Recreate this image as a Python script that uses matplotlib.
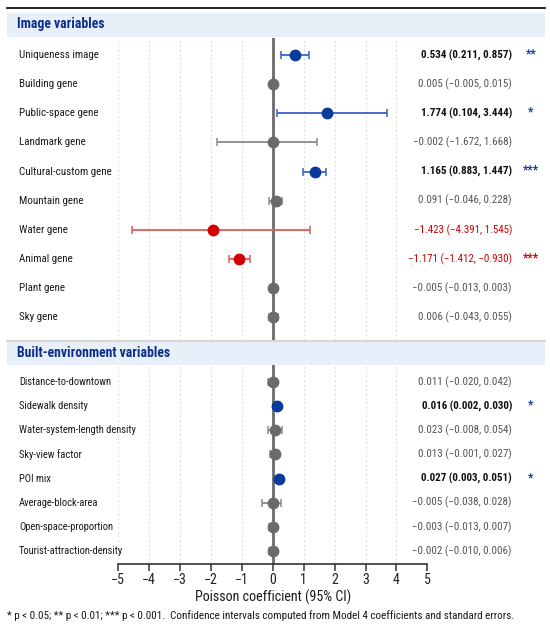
import matplotlib
matplotlib.use('Agg')
import matplotlib.pyplot as plt
from matplotlib import font_manager
from matplotlib.patches import Rectangle
from matplotlib.lines import Line2D
from matplotlib.transforms import blended_transform_factory

# pick a narrow sans if one is there
installed = set(f.name for f in font_manager.fontManager.ttflist)
base = 'DejaVu Sans'
for cand in ['Roboto Condensed', 'Liberation Sans Narrow', 'DejaVu Sans Condensed',
             'Open Sans Condensed', 'Noto Sans Condensed', 'Lato']:
    if cand in installed:
        base = cand
        break
plt.rcParams['font.family'] = [base, 'DejaVu Sans']
plt.rcParams['axes.unicode_minus'] = True

# ---- data ----
img_names = ['Uniqueness image', 'Building gene', 'Public-space gene', 'Landmark gene',
             'Cultural-custom gene', 'Mountain gene', 'Water gene', 'Animal gene',
             'Plant gene', 'Sky gene']
img_coef = [0.71, 0.0, 1.77, 0.0, 1.35, 0.09, -1.93, -1.10, 0.0, 0.0]
img_lo = [0.27, -0.02, 0.14, -1.81, 0.97, -0.11, -4.57, -1.42, -0.02, -0.13]
img_hi = [1.17, 0.02, 3.70, 1.42, 1.72, 0.30, 1.22, -0.75, 0.02, 0.16]
img_text = ['0.534 (0.211, 0.857)', '0.005 (\u22120.005, 0.015)', '1.774 (0.104, 3.444)',
            '\u22120.002 (\u22121.672, 1.668)', '1.165 (0.883, 1.447)', '0.091 (\u22120.046, 0.228)',
            '\u22121.423 (\u22124.391, 1.545)', '\u22121.171 (\u22121.412, \u22120.930)',
            '\u22120.005 (\u22120.013, 0.003)', '0.006 (\u22120.043, 0.055)']
img_stars = ['**', '', '*', '', '***', '', '', '***', '', '']
img_kind = ['pos', 'ns', 'pos', 'ns', 'pos', 'ns', 'neg', 'neg', 'ns', 'ns']

env_names = ['Distance-to-downtown', 'Sidewalk density', 'Water-system-length density',
             'Sky-view factor', 'POI mix', 'Average-block-area', 'Open-space-proportion',
             'Tourist-attraction-density']
env_coef = [0.0, 0.14, 0.08, 0.06, 0.19, 0.0, 0.0, 0.0]
env_lo = [-0.17, 0.10, -0.14, -0.08, 0.05, -0.34, -0.13, -0.13]
env_hi = [0.15, 0.18, 0.30, 0.21, 0.32, 0.27, 0.14, 0.14]
env_text = ['0.011 (\u22120.020, 0.042)', '0.016 (0.002, 0.030)', '0.023 (\u22120.008, 0.054)',
            '0.013 (\u22120.001, 0.027)', '0.027 (0.003, 0.051)', '\u22120.005 (\u22120.038, 0.028)',
            '\u22120.003 (\u22120.013, 0.007)', '\u22120.002 (\u22120.010, 0.006)']
env_stars = ['', '*', '', '', '*', '', '', '']
env_kind = ['ns', 'pos', 'ns', 'ns', 'pos', 'ns', 'ns', 'ns']

xticks = [-5, -4, -3, -2, -1, 0, 1, 2, 3, 4, 5]

# colours per kind: (point, bar, text)
colors = {'pos': ('#0a3a9c', '#3b63c4', '#111111'),
          'neg': ('#d40000', '#e25a5a', '#d40000'),
          'ns': ('#6b6b6b', '#8a8a8a', '#555555')}
star_col = {'pos': '#0a3a9c', 'neg': '#d40000', 'ns': '#555555'}

W, H = 550, 629
fig = plt.figure(figsize=(W / 100, H / 100), dpi=100)
fig.canvas.draw()
renderer = fig.canvas.get_renderer()


def fx(px):
    return px / W


def fy(py):
    return 1 - py / H


def fit_size(texts, ref, target_px, boost=1.0):
    # scale a group of texts so that ref gets about the width seen in the reference
    w = ref.get_window_extent(renderer).width
    size = ref.get_fontsize() * target_px / w * boost
    for t in texts:
        t.set_fontsize(size)
    return size


x0, x1 = 118.3, 427.3
groups = {'names1': [], 'names2': [], 'vals': [], 'stars': []}


def panel(top, bottom, first_row, step, names, coef, lo, hi, text, stars, kind, key, show_x):
    ax = fig.add_axes([fx(x0), fy(bottom), fx(x1) - fx(x0), (bottom - top) / H])
    n = len(names)
    ax.set_xlim(-5, 5)
    ax.set_ylim((bottom - first_row) / step, (top - first_row) / step)
    for t in xticks:
        if t != 0:
            ax.axvline(t, color='#e2e2e2', lw=0.8, ls=(0, (2, 2)), zorder=0)
    ax.axvline(0, color='#6b6b6b', lw=2.0, zorder=1)
    for s in ['top', 'right', 'left']:
        ax.spines[s].set_visible(False)
    ax.set_yticks([])
    if show_x:
        ax.spines['bottom'].set_color('#333333')
        ax.spines['bottom'].set_linewidth(1.2)
        ax.set_xticks(xticks)
        ax.tick_params(axis='x', length=5, width=1.1, color='#333333', labelsize=10,
                       labelcolor='#222222', pad=2)
    else:
        ax.spines['bottom'].set_visible(False)
        ax.set_xticks([])
    tr = blended_transform_factory(fig.transFigure, ax.transData)
    for i in range(n):
        pc, bc, tc = colors[kind[i]]
        ax.errorbar([coef[i]], [i], xerr=[[coef[i] - lo[i]], [hi[i] - coef[i]]], fmt='o',
                    ms=7.5, color=pc, ecolor=bc, elinewidth=1.3, capsize=3, capthick=1.1, zorder=3)
        groups[key].append(ax.text(fx(19), i, names[i], transform=tr, fontsize=10, color='#1a1a1a',
                                   va='center', ha='left', clip_on=False))
        groups['vals'].append(ax.text(fx(512), i, text[i], transform=tr, fontsize=10, color=tc,
                                      va='center', ha='right', clip_on=False,
                                      fontweight='bold' if kind[i] == 'pos' else 'normal'))
        if stars[i]:
            groups['stars'].append(ax.text(fx(531), i - 0.05, stars[i], transform=tr, fontsize=10,
                                           color=star_col[kind[i]], va='center', ha='center',
                                           fontweight='bold', clip_on=False))
    return ax


ax1 = panel(38, 340, 55, 29.13, img_names, img_coef, img_lo, img_hi, img_text,
            img_stars, img_kind, 'names1', False)
ax2 = panel(365, 563.5, 382, 24.15, env_names, env_coef, env_lo, env_hi, env_text,
            env_stars, env_kind, 'names2', True)
ax2.set_xlabel('Poisson coefficient (95% CI)', fontsize=11, color='#1a1a1a', labelpad=2)

# header bands and rules
heads = []
for top, bot, label in [(13, 37, 'Image variables'), (342, 365, 'Built-environment variables')]:
    fig.patches.append(Rectangle((fx(7), fy(bot)), fx(545) - fx(7), (bot - top) / H,
                                 transform=fig.transFigure, facecolor='#e9eff9', edgecolor='none', zorder=0))
    heads.append(fig.text(fx(17), fy((top + bot) / 2) + 0.001, label, fontsize=12, fontweight='bold',
                          color='#0b2f8a', va='center', ha='left'))
fig.lines.append(Line2D([fx(7), fx(545)], [fy(8), fy(8)], transform=fig.transFigure,
                        color='#111111', lw=1.3))
fig.lines.append(Line2D([fx(7), fx(545)], [fy(340.5), fy(340.5)], transform=fig.transFigure,
                        color='#d6d6d6', lw=1.5))

note = fig.text(fx(7), fy(616), '* p < 0.05; ** p < 0.01; *** p < 0.001.  Confidence intervals '
                'computed from Model 4 coefficients and standard errors.', fontsize=9,
                color='#1a1a1a', va='center', ha='left')

# match text widths to the reference, a bit taller since its face is narrower
fit_size(groups['names1'], groups['names1'][4], 84, 1.1)
fit_size(groups['names2'], groups['names2'][0], 85, 1.08)
vs = fit_size(groups['vals'], groups['vals'][1], 86, 1.08)
fit_size(heads, heads[1], 145, 1.06)
fit_size([note], note, 490, 1.04)
fit_size([ax2.xaxis.label], ax2.xaxis.label, 145, 1.08)
for t in groups['stars']:
    t.set_fontsize(vs + 0.5)

fig.savefig('out.png', dpi=100, facecolor='white')
